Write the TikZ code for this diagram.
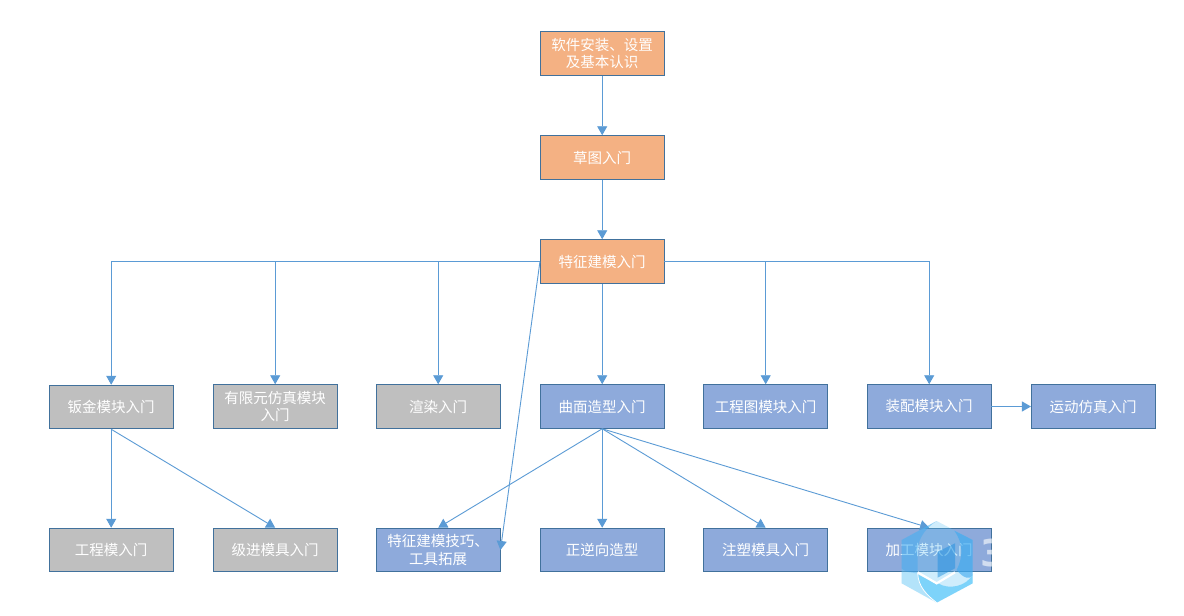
\documentclass[tikz,border=0pt]{standalone}
\usepackage{fontspec}
\setmainfont{Noto Sans CJK SC}
\newfontfamily\digitfont{DejaVu Sans}
\usetikzlibrary{arrows.meta}
\definecolor{edgeblue}{HTML}{41719C}
\definecolor{linkblue}{HTML}{5B9BD5}
\definecolor{orangefill}{HTML}{F4B183}
\definecolor{bluefill}{HTML}{8EAADB}
\definecolor{greyfill}{HTML}{BFBFBF}
\definecolor{wmBase}{HTML}{62C6F6}
\definecolor{wmSide}{HTML}{3AA8F0}
\definecolor{wmCube}{HTML}{1F90E0}
\definecolor{wmLow}{HTML}{4CC4FA}
\tikzset{
  x=1pt,y=-1pt,
  boxbase/.style={draw=edgeblue,line width=0.9pt,minimum width=123.6pt,minimum height=43.6pt,
    inner sep=0pt,align=center,text=white,font=\fontsize{14.5}{17.6}\selectfont},
  orangebox/.style={boxbase,fill=orangefill},
  bluebox/.style={boxbase,fill=bluefill},
  greybox/.style={boxbase,fill=greyfill},
  link/.style={draw=linkblue,line width=0.9pt,-{Triangle[width=10pt,length=9pt]}},
}
\begin{document}
\begin{tikzpicture}
\useasboundingbox (0,0) rectangle (1184,616);
\fill[white] (0,0) rectangle (1184,616);

% top chain
\node[orangebox] (setup) at (602.2,53.5) {软件安装、设置\\及基本认识};
\node[orangebox] (sketch) at (602.2,157.5) {草图入门};
\node[orangebox] (feature) at (602.2,261.5) {特征建模入门};

% module row
\node[greybox] (sheet) at (111.2,407) {钣金模块入门};
\node[greybox] (fea) at (275.2,406.5) {有限元仿真模块\\入门};
\node[greybox] (render) at (438.2,406.5) {渲染入门};
\node[bluebox] (surface) at (602.2,406.5) {曲面造型入门};
\node[bluebox] (drawing) at (765.7,406.5) {工程图模块入门};
\node[bluebox] (assembly) at (929.2,406.5) {装配模块入门};
\node[bluebox] (motion) at (1093.2,406.5) {运动仿真入门};

% advanced row
\node[greybox] (die) at (111.2,550) {工程模入门};
\node[greybox] (progressive) at (275.2,550) {级进模具入门};
\node[bluebox] (skills) at (438.2,550) {特征建模技巧、\\工具拓展};
\node[bluebox] (reverse) at (602.2,550) {正逆向造型};
\node[bluebox] (mould) at (765.7,550) {注塑模具入门};
\node[bluebox] (machining) at (929.2,550) {加工模块入门};

% connectors
\draw[link] (setup) -- (sketch);
\draw[link] (sketch) -- (feature);
\draw[link] (feature.west) -| (sheet.north);
\draw[link] (feature.west) -| (fea.north);
\draw[link] (feature.west) -| (render.north);
\draw[link] (feature.west) -- (skills.east);
\draw[link] (feature) -- (surface);
\draw[link] (feature.east) -| (drawing.north);
\draw[link] (feature.east) -| (assembly.north);
\draw[link] (assembly) -- (motion);
\draw[link] (sheet) -- (die);
\draw[link] (sheet.south) -- (progressive.north);
\draw[link] (surface.south) -- (skills.north);
\draw[link] (surface) -- (reverse);
\draw[link] (surface.south) -- (mould.north);
\draw[link] (surface.south) -- (machining.north);

% logo mark, drawn on a one-third point grid
\begin{scope}[shift={(895,515)},x=0.3333pt,y=-0.3333pt]
  % hexagon body
  \fill[wmBase,fill opacity=.3] (125,18) -- (233,75) -- (233,205) -- (125,263) -- (20,205) -- (20,75) -- cycle;
  % lower-left panel
  \fill[wmBase,fill opacity=.25] (20,160) .. controls (28,170) and (40,172) .. (68,175) .. controls (70,215) and (95,240) .. (125,263) -- (20,205) -- cycle;
  % left blade
  \fill[wmSide,fill opacity=.42] (20,75) -- (125,18) .. controls (90,40) and (72,70) .. (68,100) -- (68,175) .. controls (40,172) and (28,170) .. (20,160) -- cycle;
  % right blade
  \fill[wmSide,fill opacity=.6] (178,47) -- (233,75) -- (233,180) .. controls (225,195) and (205,190) .. (185,165) .. controls (205,125) and (205,85) .. cycle;
  % cube front face
  \fill[wmCube,fill opacity=.5] (128,110) -- (180,85) -- (180,160) -- (128,188) -- cycle;
  % lower blade
  \fill[wmLow,fill opacity=.62] (68,178) .. controls (70,215) and (95,240) .. (125,263) -- (233,205) -- (233,178) .. controls (215,215) and (160,225) .. (130,205) -- (125,207) -- cycle;
  % chevron cut and the white arc below it
  \draw[white,line width=2.2pt,line join=miter] (68,172) -- (125,205) -- (180,172);
  \draw[white,line width=0.8pt] (68,175) .. controls (70,215) and (95,240) .. (125,263);
\end{scope}
\begin{scope}
  \clip (950,529) rectangle (991.7,571);
  \node[text=white,text opacity=.6,font=\digitfont\bfseries\fontsize{37}{37}\selectfont,anchor=west,inner sep=0pt] (digit) at (980,553.5) {3};
\end{scope}
\end{tikzpicture}
\end{document}
